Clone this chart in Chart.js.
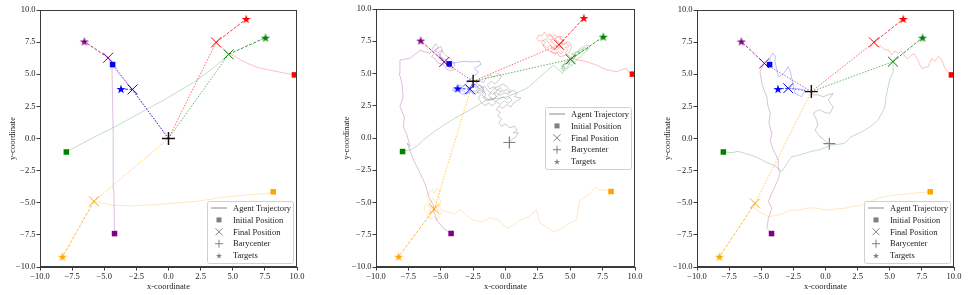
<!DOCTYPE html>
<html>
<head>
<meta charset="utf-8">
<script src="https://cdn.jsdelivr.net/npm/chart.js@4.4.1/dist/chart.umd.min.js"></script>
<style>
  html, body { margin: 0; padding: 0; background: #fff; }
  #wrap { position: relative; width: 968px; height: 295px; overflow: hidden; }
  canvas { position: absolute; top: 0; }
</style>
</head>
<body>
<div id="wrap">
  <canvas id="c1" width="312" height="295" style="left:0px"></canvas>
  <canvas id="c2" width="316" height="295" style="left:334px"></canvas>
  <canvas id="c3" width="313" height="295" style="left:655px"></canvas>
</div>
<script>
// ---------------- data ----------------
const axisTicks = [-10, -7.5, -5, -2.5, 0, 2.5, 5, 7.5, 10];
const agents    = ["blue", "red", "green", "purple", "orange"];
const colors    = ["0,0,255", "255,0,0", "0,128,0", "128,0,128", "255,165,0"];

const targetX = [-3.7, 6.05, 7.55, -6.55, -8.25];
const targetY = [3.85, 9.3, 7.85, 7.55, -9.2];
const initX   = [-4.35, 9.8, -7.95, -4.2, 8.15];
const initY   = [5.75, 4.95, -1.05, -7.4, -4.15];

// panel 1
const final1X = [-2.8, 3.7, 4.68, -4.7, -5.8];
const final1Y = [3.82, 7.48, 6.55, 6.28, -4.89];
const baryStart1 = [0, 0];
const baryEnd1   = [0, 0];
const traj1Blue   = [[-4.35,5.75],[-3.9,5.1],[-3.4,4.5],[-2.8,3.82]];
const traj1Red    = [[9.8,4.95],[8.5,5.2],[7.0,5.5],[5.8,6.0],[4.6,6.7],[3.7,7.48]];
const traj1Green  = [[-7.95,-1.05],[-6,0],[-4,1.0],[-2,2.1],[0,3.2],[2,4.4],[3.5,5.5],[4.68,6.55]];
const traj1Purple = [[-4.2,-7.4],[-4.25,-4],[-4.3,0],[-4.35,3],[-4.4,5.6],[-4.5,5.9],[-4.7,6.28]];
const traj1Orange = [[8.15,-4.15],[7.6,-4.28],[6,-4.4],[4,-4.6],[2.45,-4.86],[0,-5.08],[-2.74,-5.25],[-4.2,-5.2],[-5.1,-5.05],[-5.8,-4.89]];
const baryPath1   = [[0,0],[0,0]];

// panel 2
const final2X = [-2.74, 4.13, 5.03, -4.73, -5.5];
const final2Y = [3.78, 7.23, 6.1, 5.89, -5.5];
const baryStart2 = [0.3, -0.35];
const baryEnd2   = [-2.5, 4.4];
const traj2Blue = [[-4.35,5.75],[-3.8,5.85],[-3.2,5.95],[-2.6,5.9],[-2.0,5.95],[-1.9,5.7],[-2.4,5.4],[-2.1,5.1],
  [-2.5,4.75],[-2.8,4.5],[-3.0,4.24],[-3.3,4.0],[-3.6,4.1],[-3.9,3.9],[-4.1,3.7],[-3.8,3.6],[-3.5,3.8],[-3.2,3.6],
  [-3.0,3.4],[-2.7,3.6],[-2.5,3.4],[-2.2,3.5],[-2.0,3.7],[-1.8,3.5],[-1.7,3.9],[-2.0,4.1],[-2.3,3.9],[-2.5,4.1],
  [-2.8,3.9],[-3.1,4.1],[-3.4,3.9],[-3.6,3.6],[-3.3,3.4],[-2.9,3.5],[-2.6,3.7],[-2.3,3.6],[-2.1,3.9],[-2.4,4.2],
  [-2.7,4.0],[-2.74,3.78]];
const traj2Red = [[9.8,4.95],[9.5,5.1],[9.35,5.4],[9.0,5.3],[8.6,5.15],[8.2,5.2],[7.8,5.3],[7.4,5.45],[7.05,5.65],
  [6.6,5.8],[6.27,5.92],[5.9,6.0],[5.5,6.05],[5.0,6.3],[4.6,6.6],[4.8,6.8],[4.6,7.0],[4.9,7.1],[4.7,7.4],[4.4,7.3],
  [4.5,7.6],[4.2,7.7],[4.3,7.9],[4.0,7.8],[3.8,8.0],[3.6,7.8],[3.4,8.1],[3.2,7.9],[3.0,8.2],[2.8,7.9],[2.6,8.0],
  [2.4,7.7],[2.6,7.5],[2.9,7.6],[3.1,7.4],[2.9,7.2],[3.2,7.0],[3.5,7.2],[3.7,6.9],[3.5,6.7],[3.8,6.5],[4.1,6.7],
  [4.3,6.5],[4.5,6.8],[4.3,7.1],[4.0,7.0],[3.8,7.3],[3.5,7.5],[3.7,7.7],[3.4,7.6],[3.2,7.8],[3.5,8.0],[3.9,7.6],
  [4.2,7.4],[4.5,7.2],[4.8,7.5],[5.0,7.3],[5.1,7.0],[4.9,6.6],[4.6,6.4],[4.2,6.3],[4.0,6.6],[3.7,6.6],[3.3,6.8],
  [3.0,7.0],[2.8,7.4],[3.1,7.7],[3.4,7.3],[3.6,7.0],[3.9,6.8],[4.2,7.0],[4.4,7.6],[4.1,7.9],[3.8,7.7],[4.0,7.4],
  [4.13,7.23]];
const traj2Green = [[-7.95,-1.05],[-7.3,-0.9],[-6.8,-0.6],[-6.35,-0.16],[-5.5,0.5],[-4.54,1.14],[-3.8,1.6],[-3.0,2.04],
  [-2.2,2.5],[-1.45,2.95],[-0.7,3.05],[0.1,3.2],[0.9,3.5],[1.64,3.85],[2.2,4.3],[2.66,4.75],[3.2,5.2],[3.69,5.66],
  [4.2,5.2],[4.4,5.0],[4.6,5.5],[4.3,5.6],[4.7,5.8],[5.0,5.7],[4.8,6.1],[5.2,6.0],[5.4,6.4],[5.1,6.5],[5.5,6.7],
  [5.8,6.6],[6.0,6.9],[6.3,6.8],[6.5,7.1],[6.2,7.2],[5.9,7.0],[5.7,6.9],[5.6,6.5],[5.3,6.2],[5.0,6.2],[4.8,5.8],
  [4.5,5.7],[4.3,5.3],[4.6,5.2],[4.9,5.5],[5.2,5.7],[5.5,6.1],[5.8,6.3],[6.1,6.6],[6.4,6.9],[6.1,7.0],[5.8,6.8],
  [5.4,6.6],[5.2,6.3],[4.9,6.0],[4.6,5.9],[4.4,5.4],[4.7,5.4],[5.0,5.9],[5.3,5.9],[5.1,6.1],[5.03,6.1]];
const traj2Purple = [[-4.2,-7.4],[-4.5,-7.2],[-4.8,-7.0],[-5.3,-6.36],[-5.5,-5.8],[-5.57,-5.19],[-5.9,-4.6],[-6.2,-3.6],
  [-6.6,-2.7],[-7.1,-1.7],[-7.6,-0.4],[-7.37,-0.67],[-7.6,0.2],[-7.9,0.88],[-7.8,1.6],[-8.15,2.43],[-7.9,3.2],
  [-8.0,4.24],[-8.2,5.0],[-8.15,6.05],[-7.37,6.18],[-6.6,6.8],[-5.83,6.56],[-5.6,7.0],[-5.4,7.3],[-5.2,7.0],
  [-5.5,6.8],[-5.2,6.6],[-4.9,6.8],[-5.1,6.3],[-4.8,6.2],[-5.0,6.0],[-4.6,6.1],[-4.5,5.8],[-4.3,5.9],[-4.4,5.5],
  [-4.1,5.6],[-4.0,5.3],[-4.3,5.2],[-4.6,5.4],[-4.8,5.7],[-5.2,5.8],[-5.4,6.1],[-5.7,6.3],[-5.5,6.6],[-5.3,6.9],
  [-5.0,7.1],[-4.8,6.6],[-4.6,6.4],[-4.3,6.2],[-4.0,5.9],[-3.9,5.6],[-4.2,5.4],[-4.5,5.6],[-4.7,5.9],[-4.9,6.1],
  [-5.1,6.5],[-5.3,6.4],[-5.0,6.2],[-4.73,5.89]];
const traj2Orange = [[8.15,-4.15],[7.6,-4.0],[7.17,-4.03],[7.0,-3.8],[6.3,-4.5],[5.75,-4.8],[5.6,-5.6],[5.5,-6.35],
  [4.7,-6.74],[4.2,-7.1],[3.7,-7.26],[3.2,-6.9],[2.66,-6.6],[2.4,-5.58],[1.8,-6.1],[1.1,-6.36],[0.6,-6.8],[0.1,-7.0],
  [-0.5,-6.4],[-1.2,-6.2],[-1.9,-6.5],[-2.49,-6.36],[-3.0,-6.0],[-3.5,-5.58],[-4.0,-5.9],[-4.54,-5.7],[-4.9,-5.6],
  [-5.1,-5.3],[-5.0,-4.9],[-5.2,-4.5],[-5.0,-4.1],[-5.3,-3.9],[-5.5,-4.3],[-5.6,-4.0],[-5.9,-4.2],[-6.1,-4.6],
  [-5.9,-4.9],[-6.2,-5.2],[-6.3,-5.6],[-6.0,-5.9],[-5.8,-6.3],[-5.5,-6.1],[-5.3,-6.4],[-5.1,-6.0],[-4.9,-5.8],
  [-5.2,-5.6],[-5.4,-5.3],[-5.7,-5.4],[-5.9,-5.7],[-5.6,-5.8],[-5.3,-5.0],[-5.6,-4.7],[-5.8,-5.0],[-6.0,-5.3],
  [-5.5,-5.5]];
const baryPath2 = [[0.3,-0.35],[0.5,-0.1],[0.8,0.1],[1.0,0.4],[0.6,0.4],[0.9,0.6],[0.7,0.9],[0.3,0.8],[0.0,1.1],
  [-0.3,0.9],[-0.5,1.2],[-0.3,1.5],[-0.6,1.7],[-0.4,2.0],[-0.7,2.2],[-0.5,2.5],[-0.2,2.3],[0.1,2.6],[0.4,2.4],
  [0.6,2.7],[0.9,2.9],[1.2,3.1],[0.7,3.2],[0.9,3.5],[0.6,3.7],[0.3,3.5],[0.1,3.8],[-0.2,3.6],[-0.4,3.9],[-0.7,3.7],
  [-0.9,4.0],[-1.2,3.8],[-1.4,4.1],[-1.1,4.4],[-0.8,4.2],[-0.5,4.5],[-0.3,4.8],[-0.6,5.0],[-0.9,4.7],[-1.2,4.9],
  [-1.5,4.6],[-1.7,4.3],[-2.0,4.5],[-2.3,4.2],[-2.1,3.9],[-1.8,3.7],[-1.5,3.4],[-1.7,3.1],[-1.4,2.9],[-1.1,3.1],
  [-0.8,2.8],[-0.5,3.0],[-0.2,3.2],[0.1,3.0],[0.3,3.2],[0.5,2.9],[0.2,2.7],[-0.1,2.9],[-0.4,2.6],[-0.7,2.8],
  [-1.0,2.5],[-1.3,2.7],[-1.6,2.5],[-1.9,2.8],[-2.1,3.1],[-1.9,3.4],[-2.2,3.6],[-1.9,3.9],[-1.6,4.0],[-1.3,3.6],
  [-1.0,3.4],[-0.7,3.5],[-0.4,3.3],[-0.1,3.5],[0.2,3.4],[0.4,3.7],[0.1,4.0],[-0.2,4.2],[-0.5,4.0],[-0.8,3.9],
  [-1.1,3.6],[-1.3,3.3],[-1.0,3.0],[-0.7,3.2],[-0.9,3.5],[-0.6,3.7],[-0.3,3.6],[-0.5,3.4],[-0.8,3.1],[-1.2,2.9],
  [-1.5,3.1],[-1.8,3.3],[-1.6,3.6],[-1.9,4.0],[-2.2,4.3],[-2.5,4.4]];

// panel 3
const final3X = [-2.9, 3.77, 5.25, -4.76, -5.49];
const final3Y = [3.91, 7.48, 5.98, 5.85, -5.05];
const baryStart3 = [0.3, -0.4];
const baryEnd3   = [-1.1, 3.65];
const traj3Blue = [[-4.35,5.75],[-4.3,6.3],[-4.1,6.63],[-3.9,6.4],[-3.93,6.0],[-3.8,5.4],[-3.67,4.8],[-3.3,5.0],
  [-2.9,5.59],[-2.7,5.1],[-2.63,4.68],[-2.5,4.1],[-2.37,3.5],[-1.85,3.25],[-1.6,3.77],[-2.2,3.9],[-2.9,3.91]];
const traj3Red = [[9.8,4.95],[9.7,5.0],[9.3,5.46],[9.0,6.2],[8.8,6.37],[8.5,6.0],[8.27,6.24],[8.0,5.59],[7.5,5.46],
  [7.3,5.8],[7.2,6.1],[6.9,6.6],[6.7,6.5],[6.4,6.2],[6.2,6.37],[5.9,6.8],[5.67,6.63],[5.4,6.8],[5.15,6.5],[4.9,6.9],
  [4.63,6.89],[4.3,7.2],[4.1,7.15],[3.77,7.48]];
const traj3Green = [[-7.95,-1.05],[-7.3,-1.1],[-6.8,-1.0],[-6.26,-1.16],[-5.5,-1.4],[-4.7,-1.8],[-4.0,-2.1],[-3.4,-2.58],
  [-3.15,-2.2],[-2.9,-1.8],[-2.63,-1.42],[-2.1,-1.3],[-1.6,-1.16],[-1.1,-1.0],[-0.56,-0.9],[0,-0.7],[0.48,-0.5],
  [1.0,-0.45],[1.5,-0.37],[2.0,0.14],[2.6,0.4],[3.07,0.66],[3.6,1.0],[4.1,1.44],[4.4,2.0],[4.63,2.47],[4.7,3.2],
  [4.88,4.03],[5.0,4.6],[5.28,5.2],[5.25,5.98]];
const traj3Purple = [[-4.2,-7.4],[-4.57,-6.99],[-4.5,-6.6],[-4.44,-6.2],[-4.18,-5.43],[-4.44,-4.9],[-4.2,-4.3],
  [-3.93,-3.74],[-3.7,-3.2],[-3.54,-2.7],[-3.7,-2.2],[-3.67,-1.67],[-4.05,-0.9],[-4.3,-0.25],[-4.18,0.4],[-4.4,1.2],
  [-4.3,1.96],[-4.5,2.6],[-4.57,3.25],[-4.8,3.8],[-4.95,4.3],[-5.1,5.2],[-4.76,5.85]];
const traj3Orange = [[8.15,-4.15],[7.5,-4.2],[6.7,-4.27],[6.0,-4.35],[5.4,-4.4],[4.7,-4.5],[4.1,-4.66],[3.4,-4.9],
  [2.8,-5.18],[2.1,-5.3],[1.5,-5.43],[0.7,-5.5],[-0.04,-5.56],[-0.8,-5.4],[-1.6,-5.43],[-2.1,-5.6],[-2.63,-5.56],
  [-3.2,-5.8],[-3.67,-5.95],[-4.44,-6.08],[-4.8,-5.9],[-5.2,-5.69],[-5.6,-5.4],[-5.49,-5.05]];
const baryPath3 = [[0.3,-0.4],[0.22,-0.37],[-0.1,-0.1],[-0.43,0.14],[-0.82,0.66],[-0.6,1.0],[-0.69,1.44],[-0.95,1.96],
  [-0.6,2.2],[-0.43,2.22],[0.0,2.0],[0.35,1.96],[0.61,2.47],[0.4,2.7],[0.22,3.0],[0.61,3.5],[0.2,3.4],[-0.17,3.25],
  [-0.6,3.4],[-0.95,3.38],[-1.1,3.65]];

const legendLabels = ["Agent Trajectory", "Initial Position", "Final Position", "Barycenter", "Targets"];

// ---------------- helpers ----------------
const FONT = { family: "'Liberation Serif', 'Times New Roman', serif", size: 8.5 };
const rgba = (c, a) => `rgba(${c},${a})`;
const pts = arr => arr.map(([x, y]) => ({ x, y }));

function drawStarPath(ctx, cx, cy, r) {
  const inner = r * 0.382;
  ctx.beginPath();
  for (let i = 0; i < 10; i++) {
    const rr = i % 2 ? inner : r;
    const a = -Math.PI / 2 + i * Math.PI / 5;
    ctx.lineTo(cx + rr * Math.cos(a), cy + rr * Math.sin(a));
  }
  ctx.closePath();
}

function starImage(color, r) {
  const c = document.createElement("canvas");
  const s = Math.ceil(r * 2 + 2);
  c.width = c.height = s;
  const ctx = c.getContext("2d");
  drawStarPath(ctx, s / 2, s / 2 + 0.4, r);
  ctx.fillStyle = color;
  ctx.fill();
  return c;
}

const framePlugin = {
  id: "frame",
  afterDatasetsDraw(chart) {
    const { ctx, chartArea: a } = chart;
    ctx.save();
    ctx.strokeStyle = "#3a3a3a";
    ctx.lineWidth = 1;
    ctx.strokeRect(Math.round(a.left) + 0.5, Math.round(a.top) + 0.5,
                   Math.round(a.right - a.left) - 1, Math.round(a.bottom - a.top) - 1);
    ctx.restore();
  }
};

const boxLegend = {
  id: "boxLegend",
  afterDraw(chart, args, opts) {
    const { ctx, chartArea: a } = chart;
    const w = 86, h = 62;
    const x0 = a.right - 4 - w;
    const y0 = opts.vertical === "center" ? (a.top + a.bottom) / 2 - h / 2 : a.bottom - 4 - h;
    ctx.save();
    ctx.beginPath();
    ctx.roundRect(x0 + 0.5, y0 + 0.5, w, h, 2);
    ctx.fillStyle = "rgba(255,255,255,0.85)";
    ctx.fill();
    ctx.strokeStyle = "#d0d0d0";
    ctx.lineWidth = 1;
    ctx.stroke();

    const mx = x0 + 12, tx = x0 + 26;
    const gray = "#808080";
    legendLabels.forEach((label, i) => {
      const cy = y0 + 7 + i * 11.9;
      ctx.strokeStyle = gray;
      ctx.fillStyle = gray;
      ctx.lineWidth = 1;
      if (i === 0) {
        ctx.strokeStyle = "rgba(128,128,128,0.7)";
        ctx.lineWidth = 1.3;
        ctx.beginPath(); ctx.moveTo(mx - 8, cy); ctx.lineTo(mx + 8, cy); ctx.stroke();
      } else if (i === 1) {
        ctx.fillRect(mx - 2.5, cy - 2.5, 5, 5);
      } else if (i === 2) {
        ctx.beginPath();
        ctx.moveTo(mx - 3.5, cy - 3.5); ctx.lineTo(mx + 3.5, cy + 3.5);
        ctx.moveTo(mx + 3.5, cy - 3.5); ctx.lineTo(mx - 3.5, cy + 3.5);
        ctx.stroke();
      } else if (i === 3) {
        ctx.beginPath();
        ctx.moveTo(mx - 4, cy); ctx.lineTo(mx + 4, cy);
        ctx.moveTo(mx, cy - 4); ctx.lineTo(mx, cy + 4);
        ctx.stroke();
      } else {
        drawStarPath(ctx, mx, cy + 0.3, 3.3);
        ctx.fill();
      }
      ctx.fillStyle = "#222";
      ctx.font = `${FONT.size}px ${FONT.family}`;
      ctx.textBaseline = "middle";
      ctx.fillText(label, tx, cy + 0.5);
    });
    ctx.restore();
  }
};

function axis(title, isX, fitSize) {
  return {
    type: "linear",
    min: -10,
    max: 10,
    afterBuildTicks: s => { s.ticks = axisTicks.map(v => ({ value: v })); },
    afterFit: s => { if (isX) s.height = fitSize; else s.width = fitSize; },
    ticks: {
      font: FONT,
      color: "#222",
      padding: 1,
      maxRotation: 0,
      autoSkip: false,
      callback: v => (v < 0 ? "\u2212" : "") + Math.abs(v).toFixed(1)
    },
    grid: { display: true, drawOnChartArea: false, drawTicks: true, tickLength: 3.5, color: "#3a3a3a" },
    border: { display: true, color: "#3a3a3a", width: 1 },
    title: { display: true, text: title, font: FONT, color: "#222",
             padding: isX ? { top: 1, bottom: 3 } : { top: 7, bottom: 3 } }
  };
}

function makePanel(id, p) {
  const datasets = [];
  const trajs = [p.blue, p.red, p.green, p.purple, p.orange];

  // agent trajectories
  trajs.forEach((t, i) => datasets.push({
    label: agents[i] + " trajectory",
    data: pts(t), showLine: true, pointRadius: 0,
    borderColor: rgba(colors[i], 0.25), borderWidth: 1, order: 6
  }));
  // barycenter path
  datasets.push({
    label: "barycenter path", data: pts(p.baryPath), showLine: true, pointRadius: 0,
    borderColor: "rgba(128,128,128,0.4)", borderWidth: 1, order: 5
  });
  // barycenter -> final (dotted), final -> target (dashed)
  agents.forEach((a, i) => {
    datasets.push({
      label: a + " link", showLine: true, pointRadius: 0, order: 4,
      data: [{ x: p.baryEnd[0], y: p.baryEnd[1] }, { x: p.finalX[i], y: p.finalY[i] }],
      borderColor: rgba(colors[i], 0.6), borderWidth: 1, borderDash: [1.5, 1.5]
    });
    datasets.push({
      label: a + " to target", showLine: true, pointRadius: 0, order: 4,
      data: [{ x: p.finalX[i], y: p.finalY[i] }, { x: targetX[i], y: targetY[i] }],
      borderColor: rgba(colors[i], 0.8), borderWidth: 1, borderDash: [3, 1.5]
    });
  });
  // initial squares
  datasets.push({
    label: "initial", order: 2, pointStyle: "rect", pointRadius: 3.9, borderWidth: 0,
    data: initX.map((x, i) => ({ x, y: initY[i] })),
    backgroundColor: colors.map(c => rgba(c, 1)), borderColor: colors.map(c => rgba(c, 1))
  });
  // final crosses
  datasets.push({
    label: "final", order: 2, pointStyle: "crossRot", pointRadius: 7, borderWidth: 1,
    data: p.finalX.map((x, i) => ({ x, y: p.finalY[i] })),
    borderColor: colors.map(c => rgba(c, 1))
  });
  // targets
  datasets.push({
    label: "targets", order: 2, pointRadius: 5,
    pointStyle: colors.map(c => starImage(rgba(c, 1), 4.8)),
    data: targetX.map((x, i) => ({ x, y: targetY[i] }))
  });
  // barycenters
  datasets.push({
    label: "barycenter start", order: 1, pointStyle: "cross", pointRadius: 6, borderWidth: 1.2,
    borderColor: "#808080", data: [{ x: p.baryStart[0], y: p.baryStart[1] }]
  });
  datasets.push({
    label: "barycenter end", order: 0, pointStyle: "cross", pointRadius: 6.5, borderWidth: 1.4,
    borderColor: "#111", data: [{ x: p.baryEnd[0], y: p.baryEnd[1] }]
  });

  return new Chart(document.getElementById(id), {
    type: "scatter",
    data: { datasets },
    plugins: [framePlugin, boxLegend],
    options: {
      responsive: false,
      animation: false,
      events: [],
      layout: { padding: { left: 1, top: p.padTop, right: p.padRight, bottom: 0 } },
      scales: {
        x: axis("x-coordinate", true, 28),
        y: axis("y-coordinate", false, p.yWidth)
      },
      plugins: {
        legend: { display: false },
        tooltip: { enabled: false },
        boxLegend: { vertical: p.legend }
      }
    }
  });
}

makePanel("c1", {
  blue: traj1Blue, red: traj1Red, green: traj1Green, purple: traj1Purple, orange: traj1Orange,
  baryPath: baryPath1, baryStart: baryStart1, baryEnd: baryEnd1, finalX: final1X, finalY: final1Y,
  padTop: 10, padRight: 15, yWidth: 39, legend: "bottom"
});
makePanel("c2", {
  blue: traj2Blue, red: traj2Red, green: traj2Green, purple: traj2Purple, orange: traj2Orange,
  baryPath: baryPath2, baryStart: baryStart2, baryEnd: baryEnd2, finalX: final2X, finalY: final2Y,
  padTop: 9, padRight: 15, yWidth: 41, legend: "center"
});
makePanel("c3", {
  blue: traj3Blue, red: traj3Red, green: traj3Green, purple: traj3Purple, orange: traj3Orange,
  baryPath: baryPath3, baryStart: baryStart3, baryEnd: baryEnd3, finalX: final3X, finalY: final3Y,
  padTop: 10, padRight: 14, yWidth: 41, legend: "bottom"
});
</script>
</body>
</html>
